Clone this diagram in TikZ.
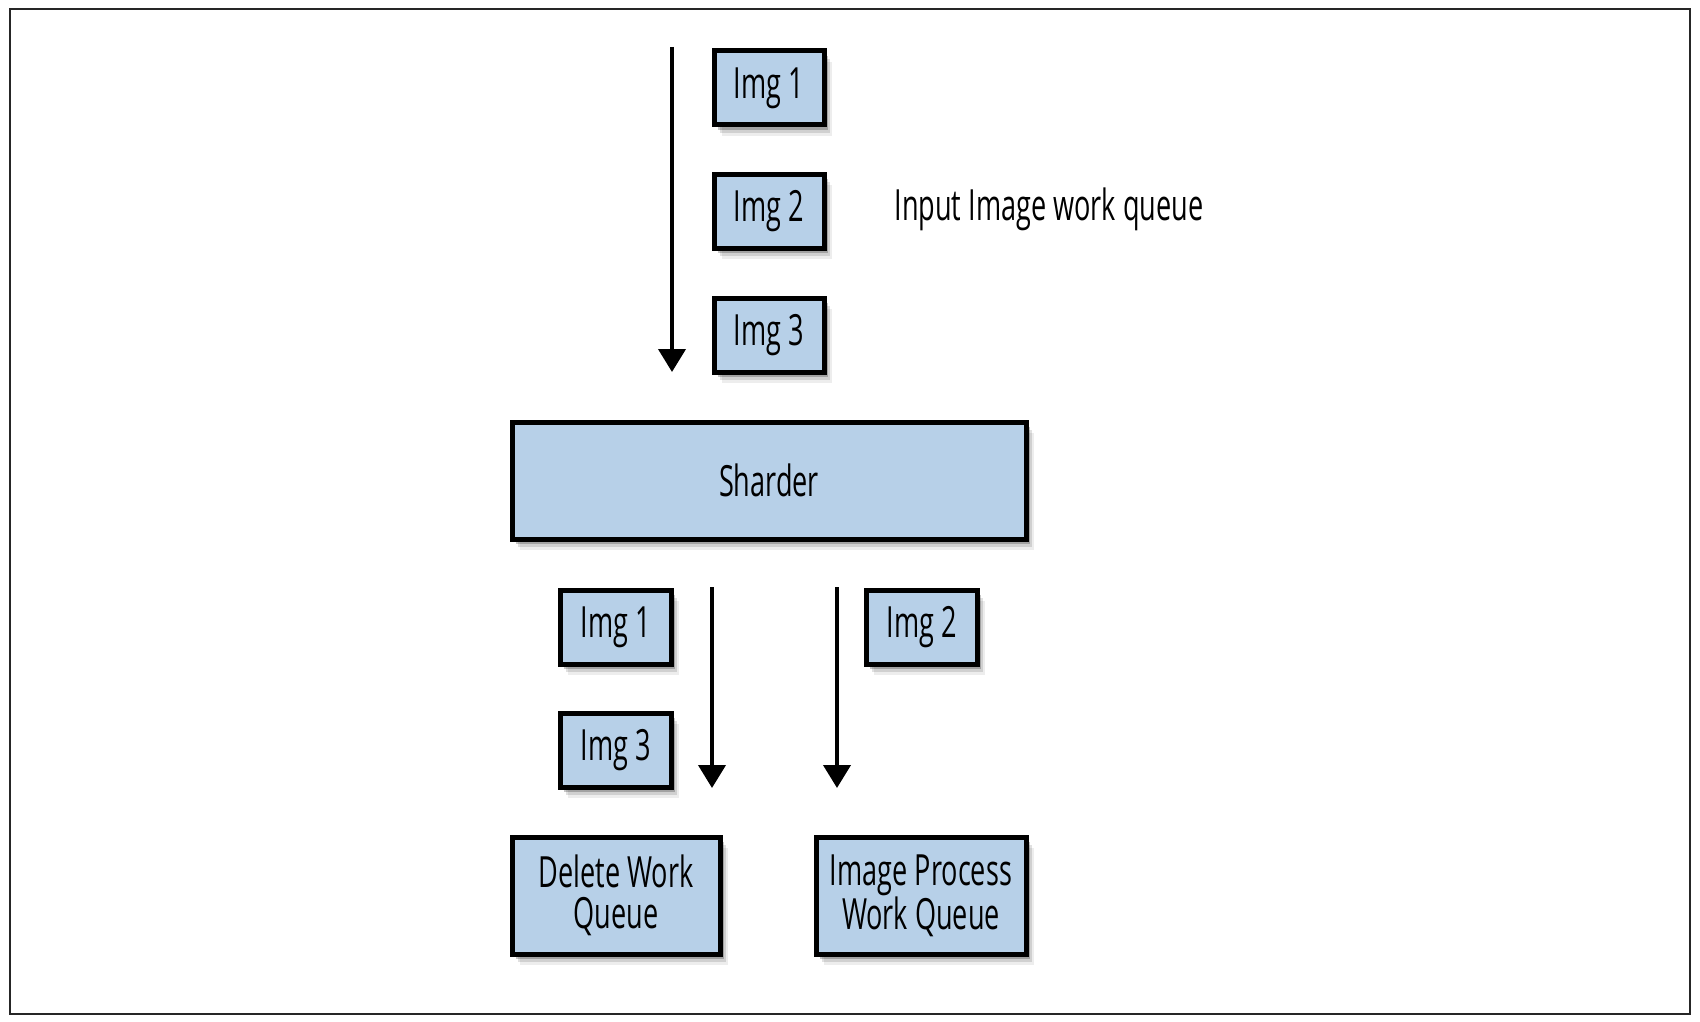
\documentclass[tikz,border=0pt]{standalone}
\usepackage{fontspec}
\setmainfont{Open Sans}[FakeStretch=0.63]
\usetikzlibrary{arrows.meta,shadows}
\definecolor{boxblue}{HTML}{B7D0E8}
\tikzset{
  qbox/.style={draw=black, line width=5pt, fill=boxblue, inner sep=0pt,
    align=center, font=\fontsize{43}{41}\selectfont,
    drop shadow={shadow xshift=8pt, shadow yshift=-11pt, opacity=0.07, fill=black},
    drop shadow={shadow xshift=6pt, shadow yshift=-8pt, opacity=0.12, fill=black},
    drop shadow={shadow xshift=4pt, shadow yshift=-5pt, opacity=0.22, fill=black}},
  flow/.style={line width=4pt, -{Triangle[width=27pt,length=23pt]}},
  lbl/.style={font=\fontsize{43}{41}\selectfont, inner sep=0pt}
}
\begin{document}
\begin{tikzpicture}[x=1pt,y=-1pt]
\useasboundingbox (0,0) rectangle (1700,1022);
\draw[line width=1.5pt, black!85] (10,9) rectangle (1690,1014);

% input queue
\node[qbox, minimum width=110pt, minimum height=74pt] (i1) at (769,88) {Img 1};
\node[qbox, minimum width=110pt, minimum height=74pt] (i2) at (769,211) {Img 2};
\node[qbox, minimum width=110pt, minimum height=74pt] (i3) at (769,335) {Img 3};
\node[lbl] (title) at (1049,209) {Input Image work queue};

\coordinate (a1s) at (672,47);
\coordinate (a1e) at (672,372);
\draw[flow] (a1s) -- (a1e);

% sharder
\node[qbox, minimum width=514pt, minimum height=117pt] (sh) at (769,480.5) {Sharder};

% output queues
\node[qbox, minimum width=111pt, minimum height=74pt] (o1) at (615.5,627) {Img 1};
\node[qbox, minimum width=111pt, minimum height=74pt] (o3) at (615.5,750) {Img 3};
\node[qbox, minimum width=111pt, minimum height=74pt] (o2) at (921.5,627) {Img 2};

\coordinate (a2s) at (712,587);
\coordinate (a2e) at (712,788);
\coordinate (a3s) at (837,587);
\coordinate (a3e) at (837,788);
\draw[flow] (a2s) -- (a2e);
\draw[flow] (a3s) -- (a3e);

\node[qbox, minimum width=208pt, minimum height=117pt] (del) at (616,895.5) {Delete Work\\Queue};
\node[qbox, minimum width=210pt, minimum height=117pt] (proc) at (921,895.5) {Image Process\\Work Queue};
\end{tikzpicture}
\end{document}
